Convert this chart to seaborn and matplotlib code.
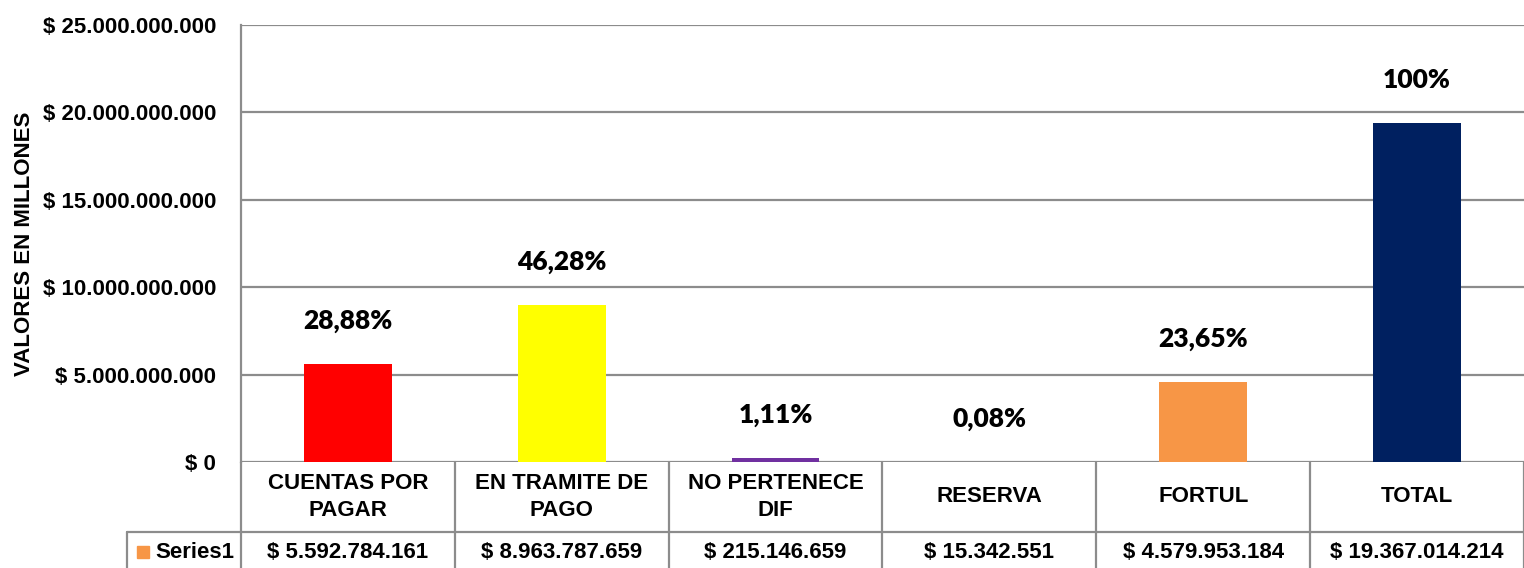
import numpy as np
import pandas as pd
import matplotlib
matplotlib.use("Agg")
import matplotlib.pyplot as plt
import matplotlib.transforms as mtransforms
from matplotlib.lines import Line2D
from matplotlib.patches import Rectangle
import seaborn as sns

# --- data ---
categories = ["CUENTAS POR\nPAGAR", "EN TRAMITE DE\nPAGO", "NO PERTENECE\nDIF",
              "RESERVA", "FORTUL", "TOTAL"]
values = [5592784161, 8963787659, 215146659, 15342551, 4579953184, 19367014214]
pct_labels = ["28,88%", "46,28%", "1,11%", "0,08%", "23,65%", "100%"]
bar_colors = ["#FF0000", "#FFFF00", "#7030A0", "#4F81BD", "#F79646", "#002060"]
y_ticks = [0, 5e9, 10e9, 15e9, 20e9, 25e9]
series_name = "Series1"
series_color = "#F79646"

NARROW = ["Liberation Sans Narrow", "Liberation Sans", "DejaVu Sans"]
GRID = "#8C8C8C"

def money(v):
    return "$ " + f"{int(v):,}".replace(",", ".")

df = pd.DataFrame({"cat": categories, "val": values})

sns.set_theme(style="white")
plt.rcParams["font.family"] = NARROW
plt.rcParams["text.color"] = "black"
plt.rcParams["axes.labelcolor"] = "black"
plt.rcParams["ytick.color"] = "black"

fig = plt.figure(figsize=(15.24, 5.68), dpi=100)
ax = fig.add_axes([241 / 1524, 106 / 568, 1 - 241 / 1524, 437 / 568])

sns.barplot(data=df, x="cat", y="val", hue="cat", palette=bar_colors,
            width=0.41, legend=False, ax=ax, saturation=1, linewidth=0)

ax.set_ylim(0, 25e9)
ax.set_xlim(-0.5, 5.5)
ax.set_yticks(y_ticks)
ax.set_yticklabels([money(t) for t in y_ticks], fontsize=16, fontweight="bold",
                   color="black")
ax.tick_params(axis="y", length=0, pad=18)
ax.set_xticks([])
ax.set_xlabel("")
ax.set_ylabel("VALORES EN MILLONES", fontsize=16, fontweight="bold", color="black",
              family=["Liberation Sans", "DejaVu Sans"])
ax.yaxis.set_label_coords(-0.1606, 0.5)

ax.grid(axis="y", color=GRID, linewidth=1.6)
ax.set_axisbelow(True)
for s in ["top", "right", "bottom"]:
    ax.spines[s].set_visible(False)
ax.spines["left"].set_color(GRID)
ax.spines["left"].set_linewidth(1.6)

# percentage labels above the bars
for i, (v, lab) in enumerate(zip(values, pct_labels)):
    ax.annotate(lab, (i, v), xytext=(0, 31), textcoords="offset points",
                ha="center", va="center", fontsize=19, fontweight="heavy",
                family=["Lato", "DejaVu Sans"], color="black")

# data table below the plot
trans = mtransforms.blended_transform_factory(ax.transData, ax.transAxes)
row1_y = -0.080
split_y = -70 / 437
row2_y = -0.206
bottom_y = -0.30

for k in range(len(categories) + 1):
    ax.add_line(Line2D([k - 0.5, k - 0.5], [0, bottom_y], transform=trans,
                       color=GRID, linewidth=1.6, clip_on=False))
ax.add_line(Line2D([-0.5, 5.5], [split_y, split_y], transform=trans,
                   color=GRID, linewidth=1.6, clip_on=False))

for i, (c, v) in enumerate(zip(categories, values)):
    ax.text(i, row1_y, c, transform=trans, ha="center", va="center", color="black",
            fontsize=16, fontweight="bold", linespacing=1.4, clip_on=False)
    ax.text(i, row2_y, money(v), transform=trans, ha="center", va="center",
            color="black", fontsize=16, fontweight="bold", clip_on=False)

# legend cell
leg_left = (127 - 241) / (1524 - 241)
ax.add_line(Line2D([leg_left, 0], [split_y, split_y], transform=ax.transAxes,
                   color=GRID, linewidth=1.6, clip_on=False))
ax.add_line(Line2D([leg_left, leg_left], [split_y, bottom_y], transform=ax.transAxes,
                   color=GRID, linewidth=1.6, clip_on=False))
ax.add_patch(Rectangle((leg_left + 10 / 1283, row2_y - 6 / 437), 12 / 1283, 12 / 437,
                       transform=ax.transAxes, color=series_color, clip_on=False))
ax.text(leg_left + 28 / 1283, row2_y, series_name, transform=ax.transAxes,
        ha="left", va="center", color="black", fontsize=16, fontweight="bold",
        clip_on=False)

fig.savefig("out.png", dpi=100)
